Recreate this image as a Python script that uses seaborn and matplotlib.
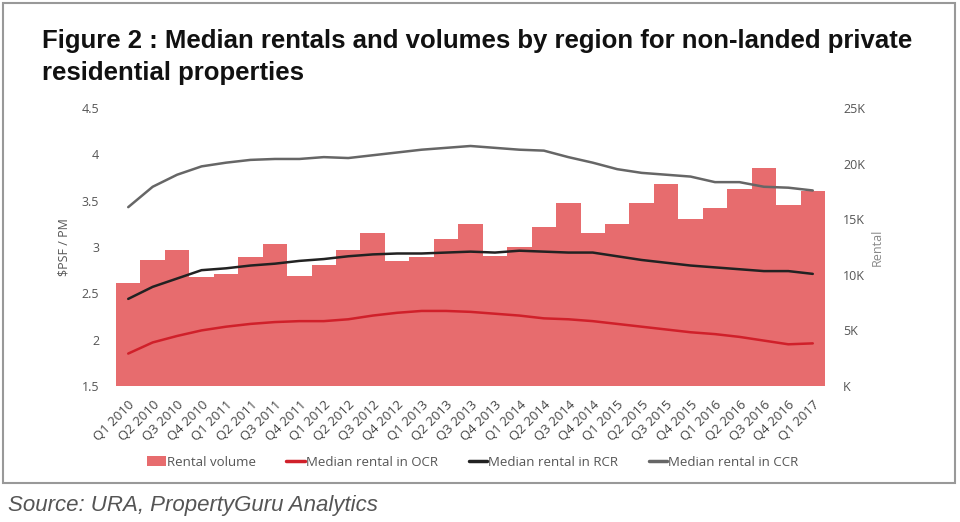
import seaborn as sns
import matplotlib.pyplot as plt
import pandas as pd
from matplotlib.patches import Patch, Rectangle
from matplotlib.lines import Line2D
from matplotlib.ticker import FuncFormatter

quarters = [f"Q{q} {y}" for y in range(2010, 2017) for q in range(1, 5)] + ["Q1 2017"]

# rental volume (number of contracts), right axis
volume = [9300, 11300, 12200, 9800, 10100, 11600, 12800, 9900, 10900, 12200,
          13800, 11200, 11600, 13200, 14600, 11700, 12500, 14300, 16500, 13800,
          14600, 16500, 18200, 15000, 16000, 17700, 19600, 16300, 17500]

# median rental $psf pm, left axis
ocr = [1.85, 1.97, 2.04, 2.10, 2.14, 2.17, 2.19, 2.20, 2.20, 2.22,
       2.26, 2.29, 2.31, 2.31, 2.30, 2.28, 2.26, 2.23, 2.22, 2.20,
       2.17, 2.14, 2.11, 2.08, 2.06, 2.03, 1.99, 1.95, 1.96]
rcr = [2.44, 2.57, 2.66, 2.75, 2.77, 2.80, 2.82, 2.85, 2.87, 2.90,
       2.92, 2.93, 2.93, 2.94, 2.95, 2.94, 2.96, 2.95, 2.94, 2.94,
       2.90, 2.86, 2.83, 2.80, 2.78, 2.76, 2.74, 2.74, 2.71]
ccr = [3.43, 3.65, 3.78, 3.87, 3.91, 3.94, 3.95, 3.95, 3.97, 3.96,
       3.99, 4.02, 4.05, 4.07, 4.09, 4.07, 4.05, 4.04, 3.97, 3.91,
       3.84, 3.80, 3.78, 3.76, 3.70, 3.70, 3.65, 3.64, 3.61]

bar_color = "#e76c6e"
ocr_color = "#d0202a"
rcr_color = "#222222"
ccr_color = "#666666"
txt = "#555555"

df = pd.DataFrame({"quarter": quarters, "idx": range(len(quarters)),
                   "volume": volume, "ocr": ocr, "rcr": rcr, "ccr": ccr})

sns.set_theme(style="white")
plt.rcParams["font.family"] = ["Open Sans", "DejaVu Sans"]

fig = plt.figure(figsize=(9.6, 5.22), dpi=100)
ax = fig.add_axes([116 / 960, 1 - 386 / 522, 709 / 960, 278 / 522])
ax2 = ax.twinx()

sns.barplot(data=df, x="idx", y="volume", ax=ax2, color=bar_color,
            width=1.0, saturation=1, linewidth=0)
for col, c in [("ccr", ccr_color), ("rcr", rcr_color), ("ocr", ocr_color)]:
    sns.lineplot(data=df, x="idx", y=col, ax=ax, color=c, linewidth=1.8)

ax.set_zorder(ax2.get_zorder() + 1)
ax.patch.set_visible(False)

ax.set_xlim(-0.5, len(quarters) - 0.5)
ax.set_ylim(1.5, 4.5)
ax2.set_ylim(0, 25000)
ax.set_yticks([1.5, 2, 2.5, 3, 3.5, 4, 4.5])
ax.set_yticklabels(["1.5", "2", "2.5", "3", "3.5", "4", "4.5"])
ax2.set_yticks(range(0, 25001, 5000))
ax2.yaxis.set_major_formatter(FuncFormatter(lambda v, p: f"{int(v / 1000)}K" if v else "K"))
ax.set_xticks(range(len(quarters)))
ax.set_xticklabels(quarters, rotation=45, ha="right", rotation_mode="anchor")

for a in (ax, ax2):
    sns.despine(ax=a, left=True, right=True, top=True, bottom=True)
    a.tick_params(length=0, labelsize=9, labelcolor=txt)
    a.set_xlabel("")
ax.tick_params(axis="y", pad=12)
ax.tick_params(axis="x", pad=9, labelsize=9.5, labelcolor="#444444")
ax2.tick_params(axis="y", pad=13)
ax.set_ylabel("$PSF / PM", fontsize=9, color=txt, labelpad=8)
ax2.set_ylabel("Rental", fontsize=9, color="#888888", labelpad=4)

handles = [Patch(facecolor=bar_color, edgecolor="none"),
           Line2D([], [], color=ocr_color, lw=2.5),
           Line2D([], [], color=rcr_color, lw=2.5),
           Line2D([], [], color=ccr_color, lw=2.5)]
labels = ["Rental volume", "Median rental in OCR", "Median rental in RCR", "Median rental in CCR"]
fig.legend(handles, labels, loc="center", bbox_to_anchor=(473 / 960, 1 - 462 / 522),
           ncol=4, frameon=False, fontsize=9.5, handlelength=1.4, handleheight=0.8,
           handletextpad=0.1, columnspacing=2.3, labelcolor=txt)

fig.text(42 / 960, 1 - 41 / 522, "Figure 2 : Median rentals and volumes by region for non-landed private",
         fontsize=18.5, fontweight="bold", family=["Liberation Sans"], va="center", color="#111111")
fig.text(42 / 960, 1 - 73 / 522, "residential properties",
         fontsize=18.5, fontweight="bold", family=["Liberation Sans"], va="center", color="#111111")
fig.text(8 / 960, 1 - 505 / 522, "Source: URA, PropertyGuru Analytics",
         fontsize=16, style="italic", family=["Liberation Sans"], va="center", color="#555555")

fig.patches.append(Rectangle((3 / 960, 1 - 483 / 522), 952 / 960, 480 / 522,
                             transform=fig.transFigure, fill=False,
                             edgecolor="#999999", linewidth=1.5))

fig.savefig("out.png", dpi=100)
